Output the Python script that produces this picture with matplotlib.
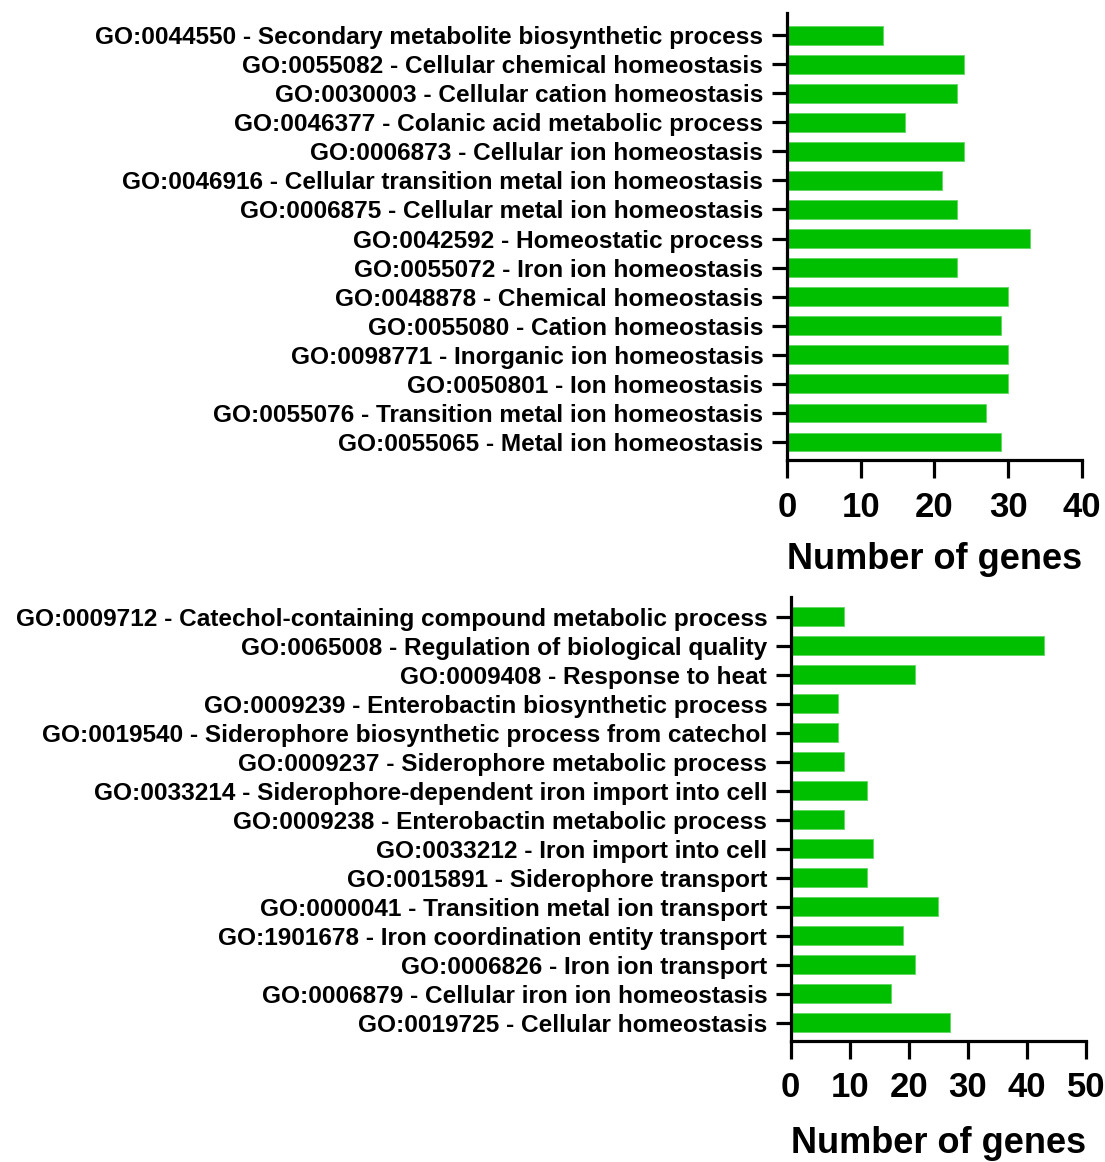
import matplotlib.pyplot as plt
import numpy as np

plt.rcParams['font.family'] = ['Liberation Sans', 'DejaVu Sans']
plt.rcParams['font.weight'] = 'bold'

# panel A: homeostasis-related GO terms (top to bottom)
terms_a = [
    "GO:0044550 - Secondary metabolite biosynthetic process",
    "GO:0055082 - Cellular chemical homeostasis",
    "GO:0030003 - Cellular cation homeostasis",
    "GO:0046377 - Colanic acid metabolic process",
    "GO:0006873 - Cellular ion homeostasis",
    "GO:0046916 - Cellular transition metal ion homeostasis",
    "GO:0006875 - Cellular metal ion homeostasis",
    "GO:0042592 - Homeostatic process",
    "GO:0055072 - Iron ion homeostasis",
    "GO:0048878 - Chemical homeostasis",
    "GO:0055080 - Cation homeostasis",
    "GO:0098771 - Inorganic ion homeostasis",
    "GO:0050801 - Ion homeostasis",
    "GO:0055076 - Transition metal ion homeostasis",
    "GO:0055065 - Metal ion homeostasis",
]
genes_a = [13, 24, 23, 16, 24, 21, 23, 33, 23, 30, 29, 30, 30, 27, 29]
ticks_a = [0, 10, 20, 30, 40]

# panel B: siderophore / iron transport GO terms (top to bottom)
terms_b = [
    "GO:0009712 - Catechol-containing compound metabolic process",
    "GO:0065008 - Regulation of biological quality",
    "GO:0009408 - Response to heat",
    "GO:0009239 - Enterobactin biosynthetic process",
    "GO:0019540 - Siderophore biosynthetic process from catechol",
    "GO:0009237 - Siderophore metabolic process",
    "GO:0033214 - Siderophore-dependent iron import into cell",
    "GO:0009238 - Enterobactin metabolic process",
    "GO:0033212 - Iron import into cell",
    "GO:0015891 - Siderophore transport",
    "GO:0000041 - Transition metal ion transport",
    "GO:1901678 - Iron coordination entity transport",
    "GO:0006826 - Iron ion transport",
    "GO:0006879 - Cellular iron ion homeostasis",
    "GO:0019725 - Cellular homeostasis",
]
genes_b = [9, 43, 21, 8, 8, 9, 13, 9, 14, 13, 25, 19, 21, 17, 27]
ticks_b = [0, 10, 20, 30, 40, 50]

BAR_GREEN = '#00bf00'


def dibujar_panel(ax, terms, genes, ticks, ylim, pad_label):
    n = len(terms)
    pos = np.arange(n)[::-1]
    ax.barh(pos, genes, height=0.65, color=BAR_GREEN,
            edgecolor='#5fd85f', linewidth=0.6)
    ax.set_xlim(ticks[0], ticks[-1])
    ax.set_ylim(*ylim)
    ax.set_yticks(pos)
    ax.set_yticklabels(terms, fontsize=17.6, fontweight='bold')
    ax.set_xticks(ticks)
    ax.set_xticklabels([str(t) for t in ticks], fontsize=25, fontweight='bold')
    ax.set_xlabel("Number of genes", fontsize=26, fontweight='bold', labelpad=pad_label)
    for s in ['top', 'right']:
        ax.spines[s].set_visible(False)
    for s in ['left', 'bottom']:
        ax.spines[s].set_linewidth(2.3)
        ax.spines[s].set_capstyle('projecting')
    ax.tick_params(axis='y', length=11, width=2.3, pad=6)
    ax.tick_params(axis='x', length=13, width=2.3, pad=9)


fig = plt.figure(figsize=(11.05, 11.62), dpi=100)
ax1 = fig.add_axes([0.7122, 0.6041, 0.2670, 0.3847])
ax2 = fig.add_axes([0.7156, 0.1044, 0.2670, 0.3818])

dibujar_panel(ax1, terms_a, genes_a, ticks_a, (-0.62, 14.76), 13)
dibujar_panel(ax2, terms_b, genes_b, ticks_b, (-0.62, 14.68), 16)

fig.savefig("out.png", dpi=100)
